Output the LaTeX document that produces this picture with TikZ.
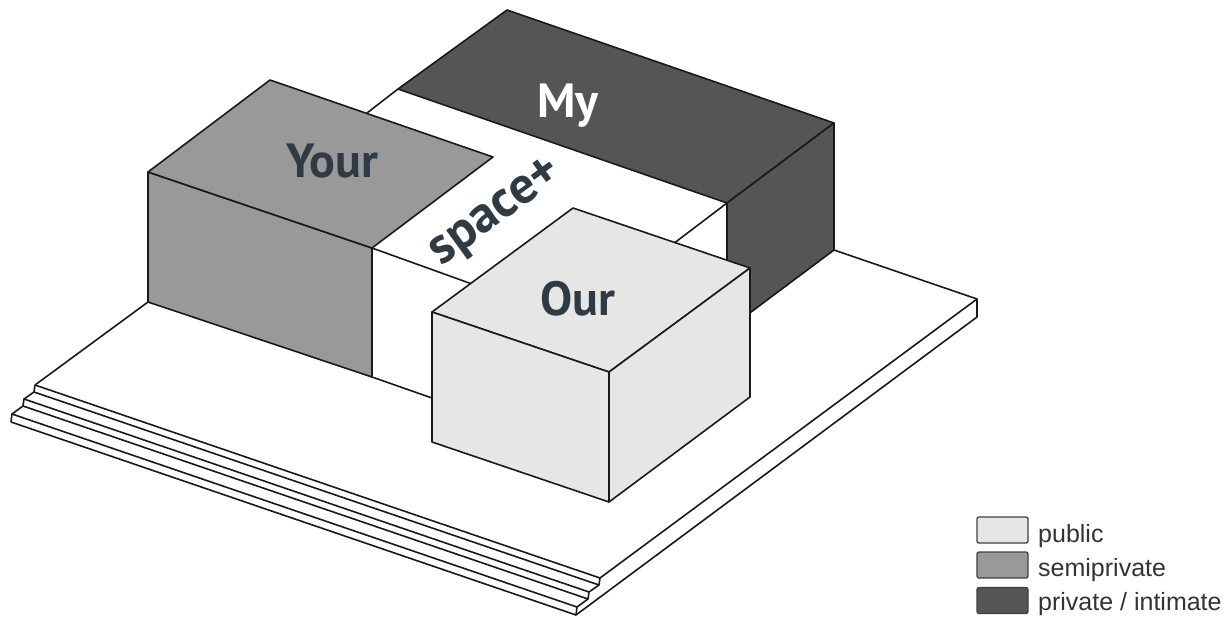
\documentclass[tikz,border=0pt]{standalone}
\usepackage{fontspec}
\newfontfamily\lblfont{PT Sans}
\newfontfamily\keyfont{Liberation Sans}
\definecolor{pubgray}{HTML}{E6E6E6}
\definecolor{semigray}{HTML}{999999}
\definecolor{privgray}{HTML}{555555}
\definecolor{lbltext}{HTML}{2E3B44}
\begin{document}
\begin{tikzpicture}[x=1pt,y=-1pt,line join=round,
  edge/.style={draw=black!90,line width=1.6pt},
  lbl/.style={font=\lblfont\bfseries\fontsize{48}{50}\selectfont,text=lbltext,inner sep=0pt},
  key/.style={draw=black!75,line width=1.3pt,rounded corners=2pt,minimum width=51pt,minimum height=26pt,inner sep=0pt},
  keytext/.style={font=\keyfont\fontsize{25}{28}\selectfont,text=black!80,anchor=base west,inner sep=0pt}]
\useasboundingbox (0,0) rectangle (1231,619);
% platform: stepped front edge
\coordinate (l0) at (35,385);
\coordinate (l1) at (34,392);
\coordinate (l2) at (24,399);
\coordinate (l3) at (23,406);
\coordinate (l4) at (12,414);
\coordinate (l5) at (11,422);
\coordinate (f0) at (600,578);
\coordinate (f1) at (599,585);
\coordinate (f2) at (589,592);
\coordinate (f3) at (588,599);
\coordinate (f4) at (577,607);
\coordinate (f5) at (576,615);
\coordinate (r0) at (977,299);
\coordinate (r1) at (977,317);
\foreach \i in {0,...,5}
  \draw[edge] (l\i) -- (f\i);
\draw[edge] (l0) -- (l1) -- (l2) -- (l3) -- (l4) -- (l5);
\draw[edge] (f0) -- (f1) -- (f2) -- (f3) -- (f4) -- (f5);
\draw[edge] (f0) -- (r0) -- (r1) -- (f5);
% My
\coordinate (mt1) at (398,89);
\coordinate (mt2) at (507,10);
\coordinate (mt3) at (834,123);
\coordinate (mt4) at (727,203);
\coordinate (mb3) at (834,250);
\coordinate (mb4) at (727,330);
\draw[edge] (r0) -- (mb3);
\filldraw[edge,fill=privgray] (mt1) -- (mt2) -- (mt3) -- (mt4) -- cycle;
\filldraw[edge,fill=privgray] (mt4) -- (mt3) -- (mb3) -- (mb4) -- cycle;
% Your
\coordinate (yt1) at (148,172);
\coordinate (yt2) at (372,248);
\coordinate (yt3) at (493,157);
\coordinate (yt4) at (270,80);
\coordinate (yb1) at (148,302);
\coordinate (yb2) at (372,377);
\draw[edge] (l0) -- (yb1);
\filldraw[edge,fill=semigray] (yt1) -- (yt2) -- (yb2) -- (yb1) -- cycle;
\filldraw[edge,fill=semigray] (yt1) -- (yt2) -- (yt3) -- (yt4) -- cycle;
% space+ strip
\coordinate (s1) at (367,113);
\coordinate (s2) at (472,284);
\coordinate (s3) at (432,398);
\coordinate (s4) at (673,244);
\draw[edge] (s1) -- (mt1);
\draw[edge] (yt2) -- (s2);
\draw[edge] (yb2) -- (s3);
\draw[edge] (mt4) -- (s4);
% Our
\coordinate (ot1) at (432,312);
\coordinate (ot2) at (573,208);
\coordinate (ot3) at (750,268);
\coordinate (ot4) at (609,372);
\coordinate (ob1) at (432,442);
\coordinate (ob3) at (750,397);
\coordinate (ob4) at (609,502);
\filldraw[edge,fill=pubgray] (ot1) -- (ot2) -- (ot3) -- (ot4) -- cycle;
\filldraw[edge,fill=pubgray] (ot1) -- (ot4) -- (ob4) -- (ob1) -- cycle;
\filldraw[edge,fill=pubgray] (ot4) -- (ot3) -- (ob3) -- (ob4) -- cycle;
% labels
\node[lbl,text=white,anchor=base] (my) at (568,117) {My};
\node[lbl,anchor=base] (your) at (332,177) {Your};
\node[lbl,anchor=base] (our) at (578,315) {Our};
\node[lbl,font=\lblfont\bfseries\fontsize{52}{54}\selectfont,rotate=36] (space) at (497,214) {space+};
% legend
\node[key,fill=pubgray] (k1) at (1002.5,530) {};
\node[key,fill=semigray] (k2) at (1002.5,565) {};
\node[key,fill=privgray] (k3) at (1002.5,600.5) {};
\node[keytext] (t1) at (1038,542) {public};
\node[keytext] (t2) at (1038,576) {semiprivate};
\node[keytext] (t3) at (1038,610) {private / intimate};
\end{tikzpicture}
\end{document}
